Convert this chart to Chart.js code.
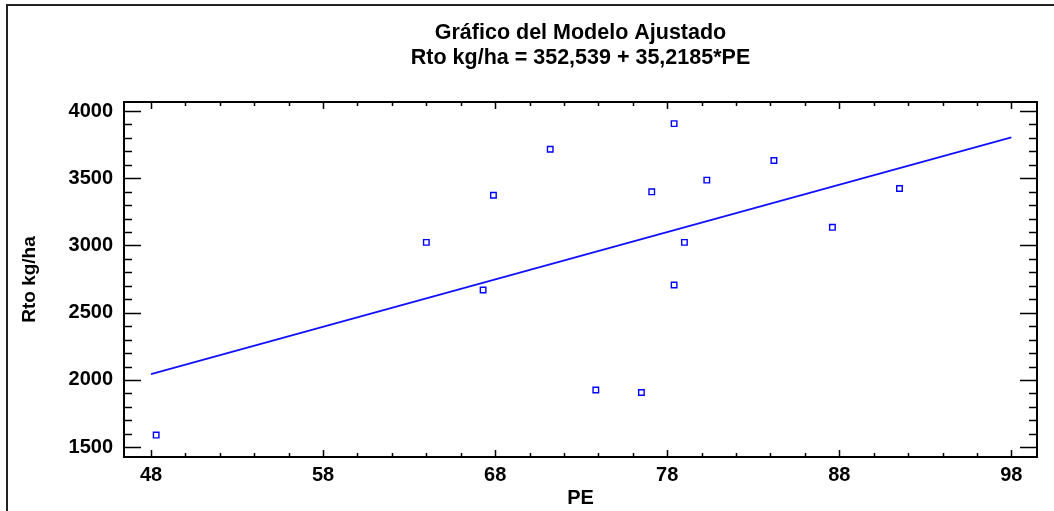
<!DOCTYPE html>
<html>
<head>
<meta charset="utf-8">
<title>Gráfico del Modelo Ajustado</title>
<script src="https://cdn.jsdelivr.net/npm/chart.js@4"></script>
<style>
  body { margin: 0; background: #fff; }
</style>
</head>
<body>
<canvas id="modelChart" width="1054" height="511"></canvas>
<script>
// observaciones PE vs rendimiento
const peValues = [48.3, 64.0, 67.3, 67.9, 71.2, 73.85, 76.5, 77.1, 78.4, 78.4, 79.0, 80.3, 84.2, 87.6, 91.5];
const rtoValues = [1590, 3023, 2669, 3374, 3716, 1925, 1907, 3399, 3906, 2706, 3023, 3486, 3632, 3135, 3424];

// modelo ajustado: Rto = a + b*PE
const intercept = 352.539;
const slope = 35.2185;
const fitRange = [48, 98];

const xTicks = [48, 58, 68, 78, 88, 98];
const yTicks = [1500, 2000, 2500, 3000, 3500, 4000];
const xMinorStep = 2;
const yMinorStep = 100;

const titleLines = ["Gráfico del Modelo Ajustado", "Rto kg/ha = 352,539 + 35,2185*PE"];

const fontFamily = "'Liberation Sans', Arial, sans-serif";

const points = peValues.map((pe, i) => ({ x: pe, y: rtoValues[i] }));
const fitLine = fitRange.map((pe) => ({ x: pe, y: intercept + slope * pe }));

// titulo centrado sobre el area del grafico, no sobre todo el canvas
const plotTitle = {
  id: "plotTitle",
  afterDraw(chart) {
    const { ctx, chartArea: a } = chart;
    const cx = (a.left + a.right) / 2;
    ctx.save();
    ctx.fillStyle = "#000";
    ctx.font = "bold 21.5px " + fontFamily;
    ctx.textAlign = "center";
    ctx.textBaseline = "middle";
    titleLines.forEach((line, i) => {
      ctx.fillText(line, cx, 33 + i * 25);
    });
    ctx.restore();
  },
};

// marco del gráfico y marcas hacia dentro en los cuatro lados
const frameTicks = {
  id: "frameTicks",
  beforeDraw(chart) {
    const ctx = chart.ctx;
    ctx.save();
    ctx.strokeStyle = "#222";
    ctx.lineWidth = 2;
    ctx.strokeRect(7, 5, 1200, 700);
    ctx.restore();
  },
  afterDraw(chart) {
    const { ctx, chartArea: a, scales } = chart;
    const x = scales.x;
    const y = scales.y;
    ctx.save();
    ctx.strokeStyle = "#000";
    ctx.lineWidth = 2;
    ctx.strokeRect(a.left, a.top, a.right - a.left, a.bottom - a.top);

    ctx.lineWidth = 1.5;
    ctx.beginPath();
    for (let v = xTicks[0]; v <= xTicks[xTicks.length - 1]; v += xMinorStep) {
      const px = Math.round(x.getPixelForValue(v)) + 0.5;
      const len = xTicks.includes(v) ? 7 : 4;
      ctx.moveTo(px, a.bottom);
      ctx.lineTo(px, a.bottom - len);
      ctx.moveTo(px, a.top);
      ctx.lineTo(px, a.top + len);
    }
    for (let v = yTicks[0]; v <= yTicks[yTicks.length - 1]; v += yMinorStep) {
      const py = Math.round(y.getPixelForValue(v)) + 0.5;
      const len = yTicks.includes(v) ? 17 : 8;
      ctx.moveTo(a.left, py);
      ctx.lineTo(a.left + len, py);
      ctx.moveTo(a.right, py);
      ctx.lineTo(a.right - len, py);
    }
    ctx.stroke();
    ctx.restore();
  },
};

const ctx = document.getElementById("modelChart");

new Chart(ctx, {
  type: "scatter",
  data: {
    datasets: [
      {
        label: "Rto kg/ha",
        data: points,
        pointStyle: "rect",
        pointRadius: 3.9,
        pointBorderWidth: 1.4,
        pointBorderColor: "#0000ff",
        pointBackgroundColor: "rgba(255,255,255,0)",
        showLine: false,
      },
      {
        label: "ajuste",
        data: fitLine,
        showLine: true,
        borderColor: "#1010ff",
        borderWidth: 1.7,
        pointRadius: 0,
        fill: false,
      },
    ],
  },
  options: {
    responsive: false,
    animation: false,
    layout: {
      padding: { left: 10, right: 17, top: 102, bottom: 0 },
    },
    scales: {
      x: {
        type: "linear",
        min: 46.43,
        max: 99.49,
        grid: { display: false, drawTicks: false },
        border: { display: false },
        afterBuildTicks(scale) {
          scale.ticks = xTicks.map((v) => ({ value: v }));
        },
        afterFit(scale) {
          scale.height = 54;
        },
        ticks: {
          autoSkip: false,
          maxRotation: 0,
          padding: 6,
          color: "#000",
          font: { family: fontFamily, size: 20, weight: "bold" },
          callback: (v) => String(v),
        },
        title: {
          display: true,
          text: "PE",
          color: "#000",
          font: { family: fontFamily, size: 20, weight: "bold", lineHeight: 1.2 },
          padding: { top: 0, bottom: 1 },
        },
      },
      y: {
        type: "linear",
        min: 1427,
        max: 4067,
        grid: { display: false, drawTicks: false },
        border: { display: false },
        afterBuildTicks(scale) {
          scale.ticks = yTicks.map((v) => ({ value: v }));
        },
        afterFit(scale) {
          scale.width = 114;
        },
        ticks: {
          autoSkip: false,
          padding: 11,
          color: "#000",
          font: { family: fontFamily, size: 20, weight: "bold" },
          callback: (v) => String(v),
        },
        title: {
          display: true,
          text: "Rto kg/ha",
          color: "#000",
          font: { family: fontFamily, size: 19, weight: "bold", lineHeight: 1.2 },
          padding: { top: 8, bottom: 0 },
        },
      },
    },
    plugins: {
      legend: { display: false },
      tooltip: { enabled: false },
      title: { display: false },
    },
  },
  plugins: [frameTicks, plotTitle],
});
</script>
</body>
</html>
